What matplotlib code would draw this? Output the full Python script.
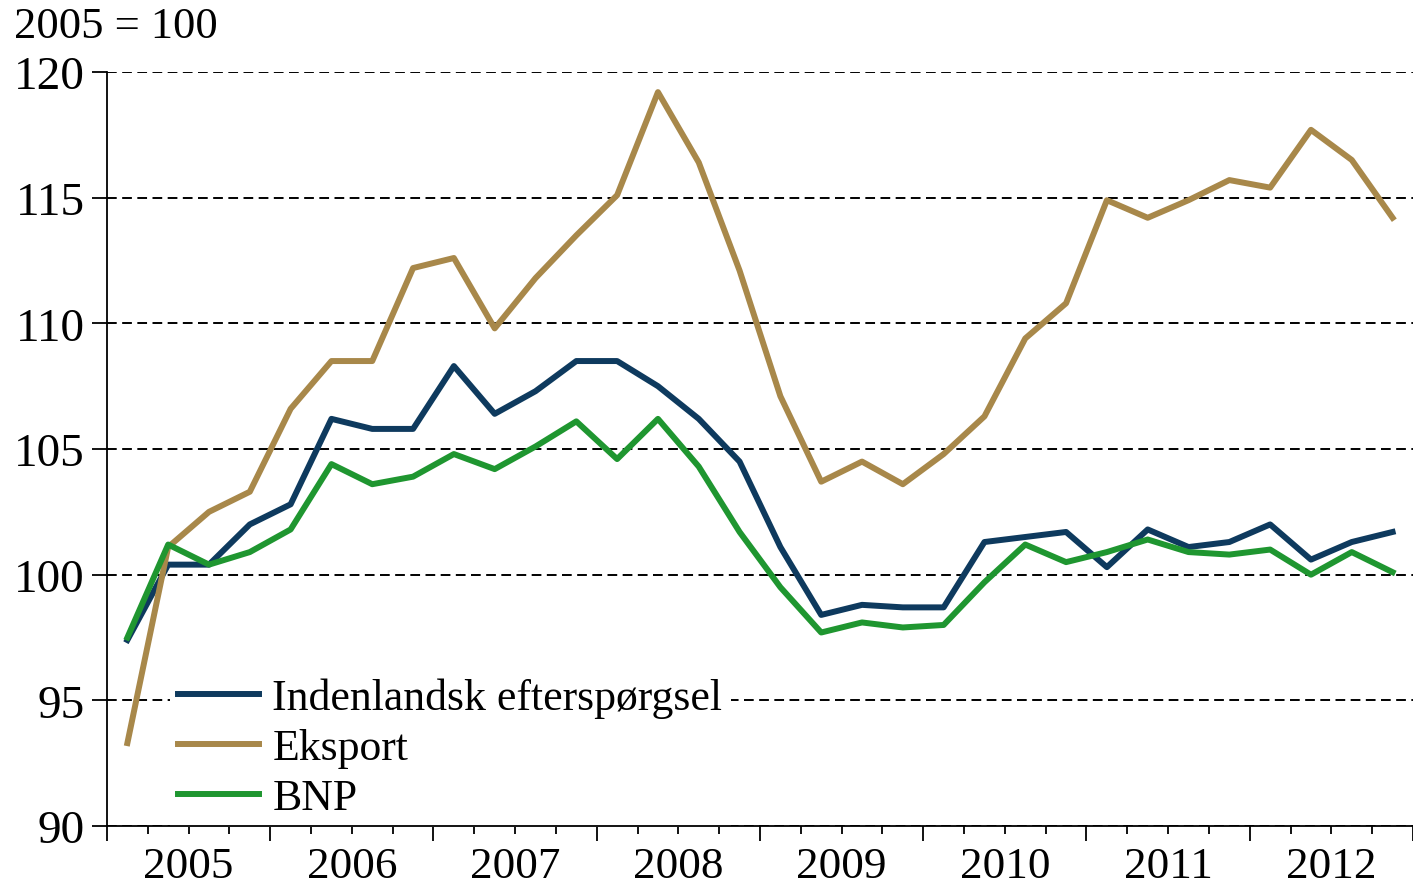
import numpy as np
import matplotlib.pyplot as plt
from matplotlib.ticker import FixedLocator, NullFormatter

plt.rcParams['font.family'] = ['Liberation Serif', 'DejaVu Serif']

# quarterly data 2005Q1 - 2012Q4, index 2005 = 100
years = ['2005', '2006', '2007', '2008', '2009', '2010', '2011', '2012']

indenlandsk = [97.4, 100.4, 100.4, 102.0, 102.8, 106.2, 105.8, 105.8,
               108.3, 106.4, 107.3, 108.5, 108.5, 107.5, 106.2, 104.5,
               101.1, 98.4, 98.8, 98.7, 98.7, 101.3, 101.5, 101.7,
               100.3, 101.8, 101.1, 101.3, 102.0, 100.6, 101.3, 101.7]

eksport = [93.3, 101.1, 102.5, 103.3, 106.6, 108.5, 108.5, 112.2,
           112.6, 109.8, 111.8, 113.5, 115.1, 119.2, 116.4, 112.1,
           107.1, 103.7, 104.5, 103.6, 104.8, 106.3, 109.4, 110.8,
           114.9, 114.2, 114.9, 115.7, 115.4, 117.7, 116.5, 114.2]

bnp = [97.5, 101.2, 100.4, 100.9, 101.8, 104.4, 103.6, 103.9,
       104.8, 104.2, 105.1, 106.1, 104.6, 106.2, 104.3, 101.7,
       99.5, 97.7, 98.1, 97.9, 98.0, 99.7, 101.2, 100.5,
       100.9, 101.4, 100.9, 100.8, 101.0, 100.0, 100.9, 100.1]

x = np.arange(len(bnp)) + 0.5

fig = plt.figure(figsize=(14.13, 8.87), dpi=100)
ax = fig.add_axes([0.0757, 0.0676, 0.9243, 0.8501])

ax.plot(x, indenlandsk, color='#0e3a5e', lw=4.3, label='Indenlandsk efterspørgsel', zorder=3)
ax.plot(x, eksport, color='#a8884a', lw=4.3, label='Eksport', zorder=3)
ax.plot(x, bnp, color='#1f9630', lw=4.3, label='BNP', zorder=4)

ax.set_xlim(0, 32)
ax.set_ylim(90, 120)
ax.set_yticks([90, 95, 100, 105, 110, 115, 120])
ax.yaxis.grid(True, color='black', ls=(0, (5, 2.8)), lw=1.4)
ax.set_axisbelow(True)

ax.xaxis.set_major_locator(FixedLocator(np.arange(0, 33, 4)))
ax.xaxis.set_minor_locator(FixedLocator(np.arange(0, 33, 1)))
ax.xaxis.set_major_formatter(NullFormatter())
# year labels in the middle of each year
for i, yr in enumerate(years):
    ax.text(4 * i + 2, 89.2, yr, ha='center', va='top', fontsize=32.5)

ax.tick_params(axis='x', which='major', length=11, width=1.3, direction='out')
ax.tick_params(axis='x', which='minor', length=6, width=1.3, direction='out')
ax.tick_params(axis='y', length=11, width=1.3, labelsize=34, pad=5)

for s in ['top', 'right']:
    ax.spines[s].set_visible(False)
for s in ['left', 'bottom']:
    ax.spines[s].set_linewidth(1.3)

fig.text(0.01, 0.97, '2005 = 100', fontsize=32, ha='left', va='center')

leg = ax.legend(loc='lower left', bbox_to_anchor=(0.048, -0.001), fontsize=31.5,
                frameon=True, framealpha=1, edgecolor='none', fancybox=False,
                handlelength=1.85, handletextpad=0.3, labelspacing=0.23,
                borderpad=0.2, borderaxespad=0.0)
leg.set_zorder(2.4)  # keep the spine on top of the white legend box

fig.savefig('out.png', dpi=100)
